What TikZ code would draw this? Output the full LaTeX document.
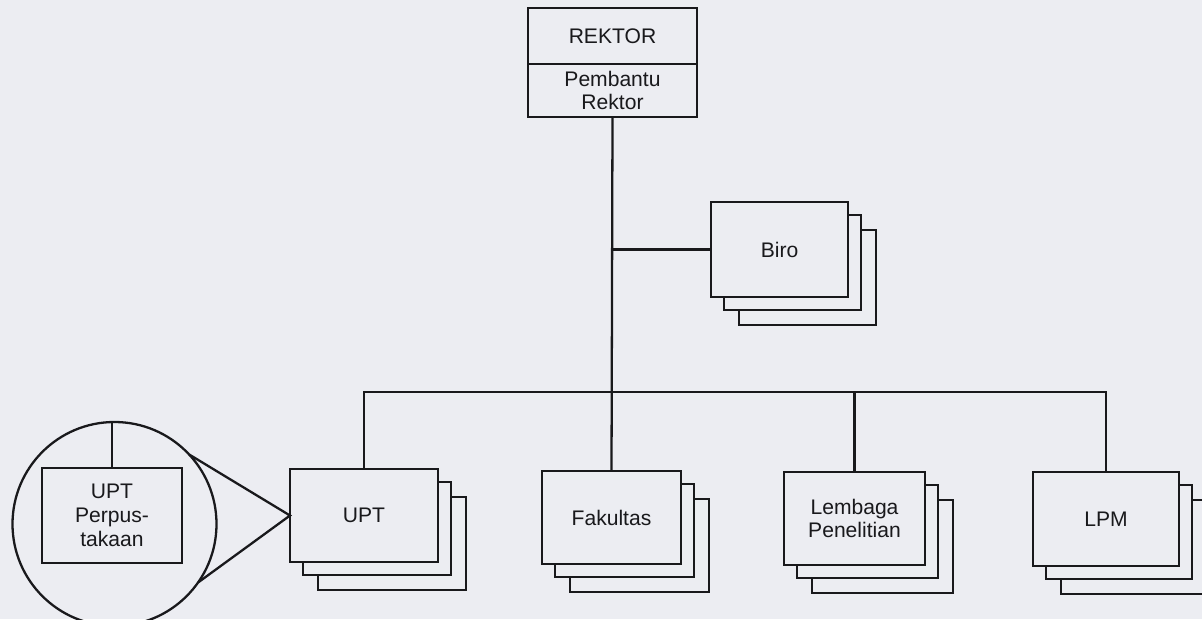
\documentclass[tikz,border=0pt]{standalone}
\usepackage{fontspec}
\setmainfont{Liberation Sans}
\definecolor{paper}{RGB}{236,237,242}
\definecolor{ink}{RGB}{25,25,28}
\tikzset{
  boxsty/.style={draw=ink, fill=paper, line width=1.3pt, inner sep=0pt, outer sep=0pt,
    align=center, text=ink, font=\fontsize{12}{12.8}\selectfont},
  link/.style={draw=ink, line width=1.3pt},
  magsty/.style={circle, draw=ink, line width=1.3pt, inner sep=0pt, outer sep=0pt}
}
\newcommand\stackbox[6]{%
  \node[boxsty, minimum width={#4*0.02cm}, minimum height={#5*0.02cm}] (#1-3) at (#2+28,#3+28) {};
  \node[boxsty, minimum width={#4*0.02cm}, minimum height={#5*0.02cm}] (#1-2) at (#2+13,#3+13) {};
  \node[boxsty, minimum width={#4*0.02cm}, minimum height={#5*0.02cm}] (#1) at (#2,#3) {#6};
}
\begin{document}
\begin{tikzpicture}[x=0.02cm,y=-0.02cm]
\fill[paper] (0,0) rectangle (1202,619);
\useasboundingbox (0,0) rectangle (1202,619);
\clip (0,0) rectangle (1202,619);

% top box
\node[boxsty, minimum width={169*0.02cm}, minimum height={56*0.02cm}] (rek) at (612.5,36) {REKTOR};
\node[boxsty, minimum width={169*0.02cm}, minimum height={53*0.02cm}, anchor=north] (pr) at (rek.south) {Pembantu\\Rektor};

% stacked boxes
\stackbox{biro}{779.5}{249.5}{137}{95}{Biro}
\stackbox{upt}{364}{515.5}{148}{93}{UPT}
\stackbox{fak}{611.5}{517.5}{139}{93}{Fakultas}
\stackbox{lp}{854.5}{518.5}{141}{93}{Lembaga\\Penelitian}
\stackbox{lpm}{1106}{519}{146}{94}{LPM}

\coordinate (bar) at (611.5,392);

% connectors
\draw[link] (pr.south) -- (fak.north);
\draw[link] (biro.west) -- (pr.south |- biro.west);
\draw[link] (upt.north) -- (upt.north |- bar) -- (lpm.north |- bar) -- (lpm.north);
\draw[link] (lp.north) -- (lp.north |- bar);

% magnifier
\node[magsty, minimum size={204*0.02cm}] (mag) at (114.5,524) {};
\node[boxsty, minimum width={140*0.02cm}, minimum height={95*0.02cm}, font=\fontsize{12}{13.5}\selectfont] (uptp) at (112,515.5) {UPT\\Perpus-\\takaan};
\draw[link] (uptp.north) -- (uptp.north |- mag.north);
\draw[link] (mag.43.7) -- (upt.west) -- (mag.-35);
\end{tikzpicture}
\end{document}
